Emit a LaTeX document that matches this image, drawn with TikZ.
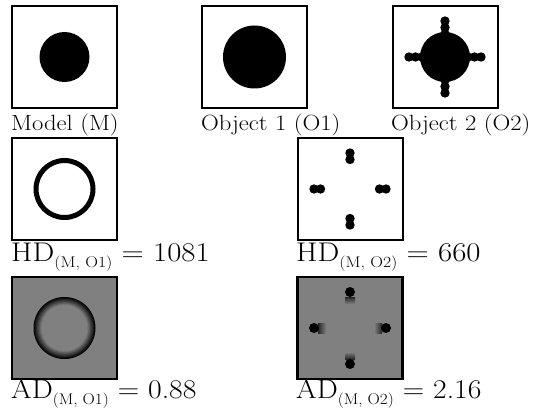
\documentclass[tikz,border=0pt]{standalone}
\usetikzlibrary{calc}
\definecolor{adgray}{gray}{0.5}
\newcommand{\capfont}{\fontsize{22}{26}\selectfont}
\newcommand{\measfont}{\fontsize{27}{31}\selectfont}
\newcommand{\subidx}[1]{{\fontsize{15.5}{16}\selectfont\raisebox{-6.5pt}{#1}}}
\newcommand{\wide}[2]{\scalebox{#1}[1]{#2}}
\tikzset{
  imgbox/.style={draw=black, line width=2pt, minimum width=105pt, minimum height=102pt, inner sep=0pt},
  adbox/.style={imgbox, fill=adgray, line width=2.6pt},
  caption/.style={anchor=base west, inner sep=0pt, font=\capfont},
  measure/.style={anchor=base west, inner sep=0pt, font=\measfont},
  blob/.style={fill=black}
}
\begin{document}
\begin{tikzpicture}[x=1pt, y=-1pt]
\useasboundingbox (0,0) rectangle (538,417);

% ---- row 1: model and objects ----
\node[imgbox] (m)  at (64.5,57)  {};
\node[imgbox] (o1) at (254.5,57) {};
\node[imgbox] (o2) at (445,57)   {};
\fill[blob] (m.center)  circle[radius=25pt];
\fill[blob] (o1.center) circle[radius=31.5pt];
\fill[blob] (o2.center) circle[radius=25pt];
\foreach \a in {0,90,180,270} {
  \foreach \d in {23,29.5,36} {
    \fill[blob] ([shift={(\a:\d pt)}]o2.center) circle[radius=4.7pt];
  }
}
\node[caption] (lm)  at (11,131)  {\wide{1.12}{Model (M)}};
\node[caption] (lo1) at (201,131) {\wide{1.12}{Object 1 (O1)}};
\node[caption] (lo2) at (391,131) {\wide{1.12}{Object 2 (O2)}};

% ---- row 2: Hausdorff-type difference maps ----
\node[imgbox] (h1) at (64.5,189) {};
\node[imgbox] (h2) at (350,189)  {};
\draw[line width=5pt] (h1.center) circle[radius=28.5pt];
\foreach \a in {0,90,180,270} {
  \foreach \d in {29.5,36} {
    \fill[blob] ([shift={(\a:\d pt)}]h2.center) circle[radius=4.7pt];
  }
}
\node[measure] (lh1) at (11,261)  {\wide{1.14}{HD\subidx{(M, O1)} = 1081}};
\node[measure] (lh2) at (296,261) {\wide{1.14}{HD\subidx{(M, O2)} = 660}};

% ---- row 3: average distance maps ----
\node[adbox] (a1) at (64.5,328) {};
\node[adbox] (a2) at (350,328)  {};
\foreach \i in {0,...,16} {
  \pgfmathsetmacro{\rr}{31-\i*0.5}
  \pgfmathsetmacro{\kk}{100-\i*100/16}
  \fill[black!\kk!adgray] (a1.center) circle[radius=\rr pt];
}
% gradient bars next to the outer dots
\shade[top color=black!85, bottom color=adgray]
  ([shift={(-5pt,31pt)}]a2.center) rectangle ([shift={(5pt,24pt)}]a2.center);
\shade[bottom color=black!85, top color=adgray]
  ([shift={(-5pt,-24pt)}]a2.center) rectangle ([shift={(5pt,-31pt)}]a2.center);
\shade[left color=black!85, right color=adgray]
  ([shift={(-32pt,-5pt)}]a2.center) rectangle ([shift={(-24pt,5pt)}]a2.center);
\shade[right color=black!85, left color=adgray]
  ([shift={(24pt,-5pt)}]a2.center) rectangle ([shift={(32pt,5pt)}]a2.center);
\foreach \a in {0,90,180,270} {
  \fill[blob] ([shift={(\a:36pt)}]a2.center) circle[radius=5pt];
}
\node[measure] (la1) at (11,398)  {\wide{1.1}{AD\subidx{(M, O1)} = 0.88}};
\node[measure] (la2) at (296,398) {\wide{1.1}{AD\subidx{(M, O2)} = 2.16}};
\end{tikzpicture}
\end{document}
